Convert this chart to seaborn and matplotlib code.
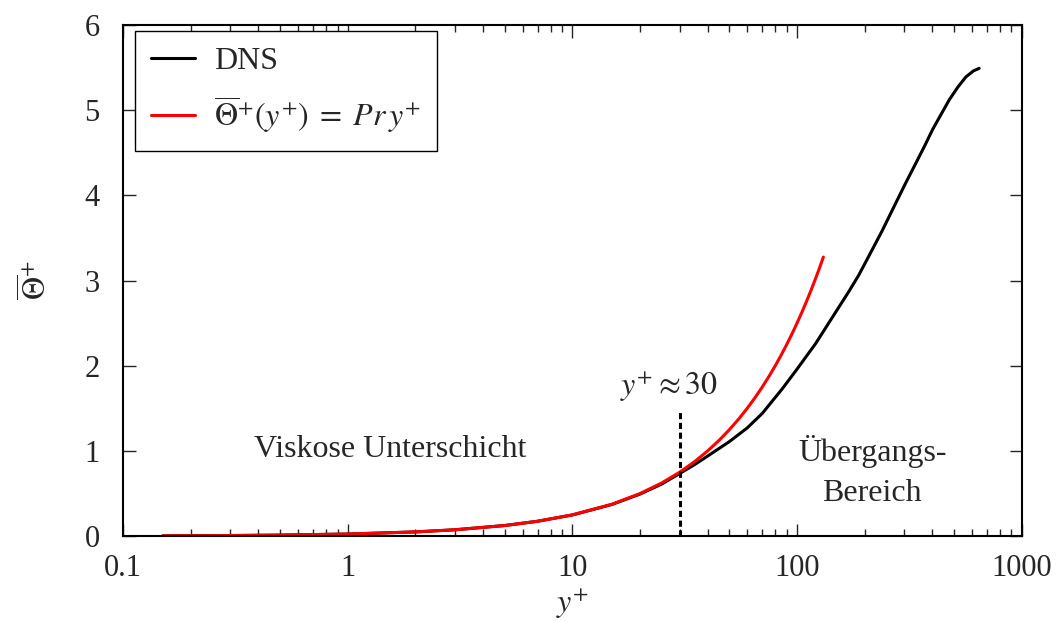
import matplotlib
matplotlib.use("Agg")
import matplotlib.pyplot as plt
import seaborn as sns
import pandas as pd

# DNS data
dns_y = [0.15, 0.3, 0.5, 1, 2, 3, 5, 7, 10, 15, 20, 25, 30, 35, 40, 50, 60, 70, 86, 100,
         121, 143, 170, 188, 216, 240, 266, 304, 337, 370, 401, 440, 476, 520, 565, 610, 647]
dns_t = [0.00375, 0.0075, 0.0125, 0.025, 0.05, 0.075, 0.125, 0.175, 0.249, 0.372, 0.494,
         0.612, 0.735, 0.84, 0.94, 1.11, 1.27, 1.44, 1.73, 1.96, 2.26, 2.56, 2.87, 3.06,
         3.36, 3.59, 3.83, 4.14, 4.37, 4.58, 4.77, 4.96, 5.12, 5.27, 5.39, 5.46, 5.49]

# Linear law Theta+ = Pr y+ (Pr = 0.025)
lin_y = [0.15, 0.3, 0.5, 1, 2, 3, 5, 7, 10, 15, 20, 25, 30, 35, 40, 45, 50, 55, 60, 65,
         70, 75, 80, 85, 90, 95, 100, 105, 110, 115, 120, 125, 131]
lin_t = [0.00375, 0.0075, 0.0125, 0.025, 0.05, 0.075, 0.125, 0.175, 0.25, 0.375, 0.5,
         0.625, 0.75, 0.875, 1.0, 1.125, 1.25, 1.375, 1.5, 1.625, 1.75, 1.875, 2.0,
         2.125, 2.25, 2.375, 2.5, 2.625, 2.75, 2.875, 3.0, 3.125, 3.275]

# Dashed marker line at y+ ~ 30
mark_x = [30, 30]
mark_t = [0.0, 1.48]

x_ticks = [0.1, 1, 10, 100, 1000]
x_tick_labels = ["0.1", "1", "10", "100", "1000"]
y_ticks = [0, 1, 2, 3, 4, 5, 6]

sns.set_theme(style="ticks")
plt.rcParams['font.family'] = ['Liberation Serif', 'DejaVu Serif']
plt.rcParams['mathtext.fontset'] = 'stix'
plt.rcParams['xtick.direction'] = 'in'
plt.rcParams['ytick.direction'] = 'in'

fig = plt.figure(figsize=(10.62, 6.22), dpi=100)
ax = fig.add_axes([0.116, 0.138, 0.846, 0.822])

df_dns = pd.DataFrame({"y": dns_y, "t": dns_t})
df_lin = pd.DataFrame({"y": lin_y, "t": lin_t})

sns.lineplot(data=df_dns, x="y", y="t", ax=ax, color="black", lw=2.2,
             sort=False, estimator=None, label="DNS")
sns.lineplot(data=df_lin, x="y", y="t", ax=ax, color="#ff0000", lw=2.2,
             sort=False, estimator=None,
             label=r"$\overline{\Theta}^{+}(y^{+}) \;=\; Pr\,y^{+}$")
ax.plot(mark_x, mark_t, color="black", lw=2.2, linestyle=(0, (2.0, 1.2)))

ax.set_xscale("log")
ax.set_xlim(0.1, 1000)
ax.set_ylim(0, 6)
ax.set_xticks(x_ticks)
ax.set_xticklabels(x_tick_labels)
ax.set_yticks(y_ticks)

fs = 22
fs_text = 23
ax.tick_params(axis="both", which="major", labelsize=fs, length=9, width=1.0,
               top=True, right=True)
ax.tick_params(axis="x", which="major", pad=13)
ax.tick_params(axis="y", which="major", pad=17)
ax.tick_params(axis="both", which="minor", length=5, width=1.0, top=True, right=True)
for s in ax.spines.values():
    s.set_linewidth(1.5)
    s.set_color("black")

ax.set_xlabel(r"$y^{+}$", fontsize=fs_text, labelpad=2)
ax.set_ylabel(r"$\overline{\Theta}^{+}$", fontsize=fs_text, labelpad=22)

ax.text(27, 1.55, r"$y^{+} \approx 30$", fontsize=fs_text, ha="center", va="bottom")
ax.text(1.54, 1.02, "Viskose Unterschicht", fontsize=fs_text, ha="center", va="center")
ax.text(216, 0.76, "Übergangs-\nBereich", fontsize=fs_text, ha="center", va="center",
        linespacing=1.5)

leg = ax.legend(loc="upper left", bbox_to_anchor=(0.0133, 0.988), borderaxespad=0,
                fontsize=fs_text, frameon=True, fancybox=False,
                edgecolor="black", framealpha=1, handlelength=1.38, handletextpad=0.6,
                borderpad=0.5, labelspacing=0.55)
leg.get_frame().set_linewidth(1.0)

fig.savefig("out.png", dpi=100)
